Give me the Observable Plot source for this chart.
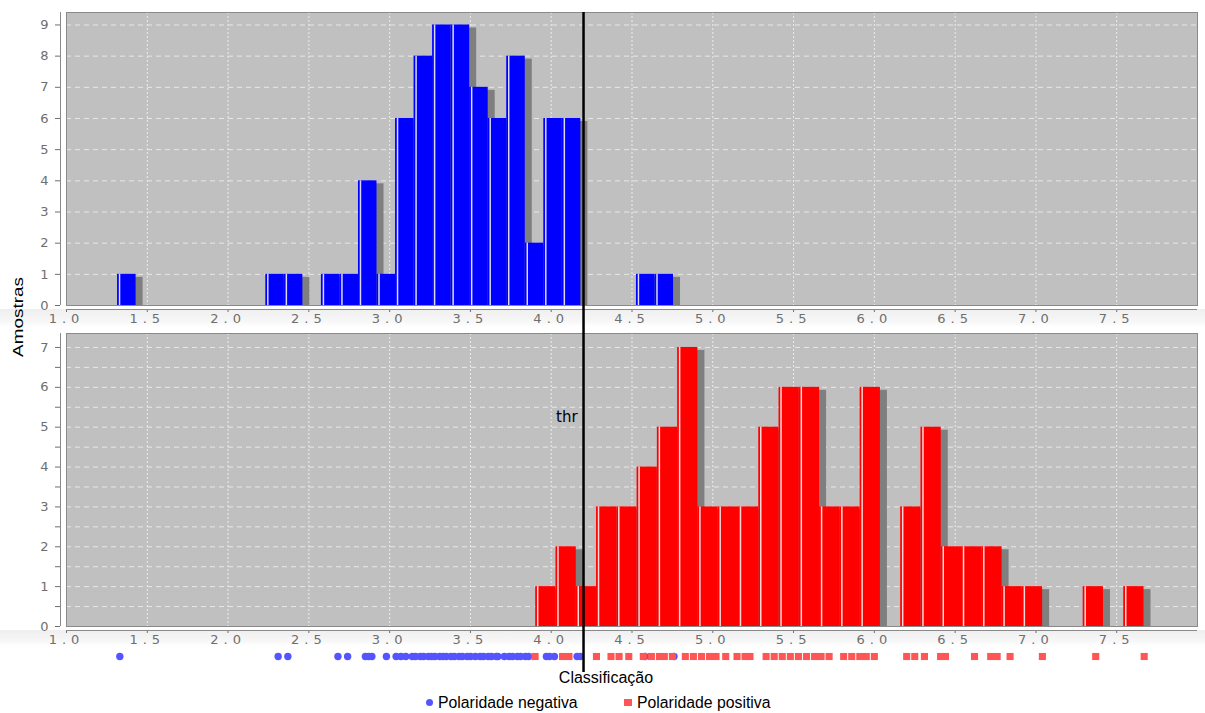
<!DOCTYPE html>
<html>
<head>
<meta charset="utf-8">
<script src="https://cdn.jsdelivr.net/npm/d3@7"></script>
<script src="https://cdn.jsdelivr.net/npm/@observablehq/plot@0.6"></script>
<style>
  html, body { margin: 0; padding: 0; background: #fff; }
  #chart { position: relative; width: 1205px; height: 713px; overflow: hidden;
           font-family: "Liberation Sans", Arial, sans-serif; color: #000; }
  #chart svg { display: block; position: relative; z-index: 1; }
  .band { position: absolute; left: 0; width: 1205px; z-index: 0; }
  .ylab { position: absolute; left: 18px; top: 317px; transform: translate(-50%, -50%) rotate(-90deg) scaleX(1.35);
          font-size: 14px; white-space: nowrap; z-index: 2; }
  .xlab { position: absolute; left: 0; width: 1212px; top: 669px; text-align: center; font-size: 16px; z-index: 2; }
  .thr { position: absolute; left: 556px; top: 408px; font-size: 15px; font-family: "DejaVu Sans", sans-serif; z-index: 2; }
  .leg { position: absolute; top: 694px; font-size: 15.8px; white-space: nowrap; z-index: 2; }
  .leg .sw { display: inline-block; vertical-align: middle; margin-right: 5px; position: relative; top: -1px; }
</style>
</head>
<body>
<div id="chart">
  <div class="band" style="top:309px;height:18px;background:linear-gradient(#efefef,#f7f7f7 70%,#fff);"></div>
  <div class="band" style="top:630px;height:16px;background:linear-gradient(#efefef,#f7f7f7 70%,#fff);"></div>
  <div class="ylab">Amostras</div>
  <div class="thr">thr</div>
  <div class="xlab">Classificação</div>
  <div class="leg" style="left:426px;"><span class="sw" style="width:7px;height:7px;border-radius:50%;background:#5555ff;"></span>Polaridade negativa</div>
  <div class="leg" style="left:624px;"><span class="sw" style="width:8px;height:7px;background:#ff5555;"></span>Polaridade positiva</div>
</div>
<script>
// ---------- data ----------
const thr = 4.2;
const xTicks = [1.0, 1.5, 2.0, 2.5, 3.0, 3.5, 4.0, 4.5, 5.0, 5.5, 6.0, 6.5, 7.0, 7.5];

// negative polarity histogram (30 bins)
const negBinStart = 1.316;
const negBinWidth = 0.1147;
const negCounts = [1,0,0,0,0,0,0,0,1,1,0,1,1,4,1,6,8,9,9,7,6,8,2,6,6,0,0,0,1,1];
const negYTicks = [0,1,2,3,4,5,6,7,8,9];
const negYGrid = [1,2,3,4,5,6,7,8,9];

// positive polarity histogram (30 bins)
const posBinStart = 3.904;
const posBinWidth = 0.1255;
const posCounts = [1,2,1,3,3,4,5,7,3,3,3,5,6,6,3,3,6,0,3,5,2,2,2,1,1,0,0,1,0,1];
const posYTicks = [0,0.5,1,1.5,2,2.5,3,3.5,4,4.5,5,5.5,6,6.5,7];
const posYGrid = [0.5,1,1.5,2,2.5,3,3.5,4,4.5,5,5.5,6,6.5,7];

// sample strip (individual classifications)
const negRug = [1.33, 2.31, 2.37, 2.68, 2.74, 2.85, 2.87, 2.89, 2.98, 3.04, 3.07, 3.10,
  3.14, 3.16, 3.19, 3.21, 3.24, 3.26, 3.28, 3.31, 3.33, 3.35, 3.38, 3.40, 3.43, 3.45,
  3.48, 3.50, 3.53, 3.56, 3.58, 3.61, 3.63, 3.66, 3.67, 3.71, 3.74, 3.76, 3.79, 3.81,
  3.84, 3.86, 3.97, 3.99, 4.02, 4.16, 4.18, 4.58, 4.76];
const posRug = [3.90, 4.07, 4.11, 4.28, 4.37, 4.42, 4.48, 4.57, 4.62, 4.67, 4.70, 4.75,
  4.83, 4.88, 4.93, 4.98, 5.02, 5.08, 5.15, 5.20, 5.23, 5.33, 5.38, 5.43, 5.48, 5.53,
  5.58, 5.63, 5.67, 5.72, 5.81, 5.86, 5.91, 5.95, 6.00, 6.20, 6.25, 6.31, 6.41, 6.44,
  6.62, 6.72, 6.76, 6.84, 7.04, 7.37, 7.67];

// ---------- drawing ----------
const W = 1205;
const axisStyle = {background: "transparent", fontFamily: "'DejaVu Sans', sans-serif",
  fontSize: "13px", color: "#6e6e6e", letterSpacing: "5px", overflow: "visible"};

function histPanel({counts, start, binW, fill, yMax, yTicks, yGrid, height, marginTop, marginBottom, ext}) {
  const bins = counts.map((c, i) => ({x1: start + i * binW, x2: start + (i + 1) * binW, c}))
                     .filter(d => d.c > 0);
  return Plot.plot({
    width: W, height, marginLeft: 60, marginRight: 8, marginTop, marginBottom,
    style: axisStyle,
    x: {domain: [1, 8], insetLeft: 6, ticks: xTicks, tickFormat: d3.format(".1f"),
        tickSize: 3, tickPadding: 1, label: null},
    y: {domain: [0, yMax], insetBottom: 4, ticks: yTicks,
        tickFormat: d => Number.isInteger(d) ? String(d) : "", tickSize: 5, tickPadding: 2, label: null},
    marks: [
      Plot.frame({fill: "#c0c0c0", insetLeft: 6, insetBottom: 4}),
      Plot.ruleY(yGrid, {stroke: "#e8e8e8", strokeDasharray: "5,4", insetLeft: 6}),
      Plot.ruleX(xTicks, {stroke: "#ececec", strokeDasharray: "2,2", insetBottom: 4}),
      Plot.rectY(bins, {x1: "x1", x2: "x2", y1: 0, y2: "c", fill: "#7f7f7f", dx: 7, insetTop: 3}),
      Plot.rectY(bins, {x1: "x1", x2: "x2", y1: 0, y2: "c", fill}),
      Plot.ruleX(bins, {x: "x1", y1: 0, y2: "c", stroke: "white", strokeOpacity: 0.85, strokeWidth: 1.5, dx: 2}),
      Plot.frame({stroke: "#8a8a8a", insetLeft: 6, insetBottom: 4}),
      Plot.ruleX([1], {dx: -6, stroke: "#8a8a8a", insetBottom: 4}),
      Plot.ruleY([0], {dy: 4, stroke: "#8a8a8a", insetLeft: 6}),
      Plot.ruleX([thr], {stroke: "black", strokeWidth: 2.5, insetBottom: -ext})
    ]
  });
}

const chartEl = document.getElementById("chart");

const negPanel = histPanel({counts: negCounts, start: negBinStart, binW: negBinWidth, fill: "#0000ff",
  yMax: 9.4, yTicks: negYTicks, yGrid: negYGrid, height: 333, marginTop: 12, marginBottom: 24, ext: 24});

const posPanel = histPanel({counts: posCounts, start: posBinStart, binW: posBinWidth, fill: "#ff0000",
  yMax: 7.35, yTicks: posYTicks, yGrid: posYGrid, height: 312, marginTop: 0, marginBottom: 15, ext: 15});

const rugPanel = Plot.plot({
  width: W, height: 27, marginLeft: 60, marginRight: 8, marginTop: 3, marginBottom: 8,
  style: {background: "transparent", overflow: "visible"},
  x: {domain: [1, 8], insetLeft: 6, axis: null},
  y: {domain: [0, 1], axis: null},
  marks: [
    Plot.dot(negRug, {x: d => d, y: 0.5, r: 3.7, fill: "#5555ff"}),
    Plot.dot(posRug, {x: d => d, y: 0.5, r: 4, symbol: "square", fill: "#ff5555"}),
    Plot.ruleX([thr], {stroke: "black", strokeWidth: 2.5, insetTop: -3, insetBottom: -8})
  ]
});

chartEl.appendChild(negPanel);
chartEl.appendChild(posPanel);
chartEl.appendChild(rugPanel);
</script>
</body>
</html>
